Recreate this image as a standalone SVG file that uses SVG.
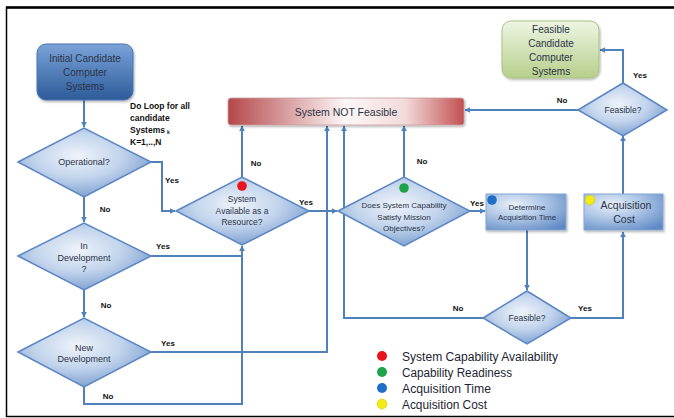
<svg xmlns="http://www.w3.org/2000/svg" width="674" height="418" viewBox="0 0 674 418">
<defs>
<style>
.t{font-family:"Liberation Sans",Arial,sans-serif;fill:#2b3447;text-anchor:middle}
.lb{font-family:"Liberation Sans",Arial,sans-serif;font-weight:bold;font-size:8px;fill:#111;text-anchor:middle}
.lg{font-family:"Liberation Sans",Arial,sans-serif;font-size:12.5px;fill:#1c2433}
.c{fill:none;stroke:#4f81bd;stroke-width:2}
.ca{fill:none;stroke:#4f81bd;stroke-width:2;marker-end:url(#ar)}
.dm{fill:url(#gd);stroke:#5b87c4;stroke-width:1.5}
.bx{fill:url(#gb);stroke:#86a7d3;stroke-width:1;filter:url(#sh)}
</style>
<marker id="ar" viewBox="0 0 10 10" refX="9" refY="5" markerWidth="6" markerHeight="6" markerUnits="userSpaceOnUse" orient="auto">
<path d="M0 0L10 5L0 10z" fill="#4f81bd"/>
</marker>
<radialGradient id="gd" cx="0.45" cy="0.4" r="0.65">
<stop offset="0" stop-color="#eef3fa"/>
<stop offset="0.5" stop-color="#c2d4ec"/>
<stop offset="1" stop-color="#759ace"/>
</radialGradient>
<radialGradient id="gb" cx="0.35" cy="0.3" r="0.85">
<stop offset="0" stop-color="#e9f0f9"/>
<stop offset="0.45" stop-color="#aec6e6"/>
<stop offset="1" stop-color="#5f89c4"/>
</radialGradient>
<linearGradient id="gi" x1="0" y1="0" x2="0" y2="1">
<stop offset="0" stop-color="#7aa3d8"/>
<stop offset="1" stop-color="#2d5b9a"/>
</linearGradient>
<linearGradient id="gg" x1="0" y1="0" x2="0" y2="1">
<stop offset="0" stop-color="#eef5e3"/>
<stop offset="1" stop-color="#b6cf8b"/>
</linearGradient>
<linearGradient id="gr" x1="0" y1="0" x2="1" y2="0">
<stop offset="0" stop-color="#b4474a"/>
<stop offset="0.5" stop-color="#fdf7f7"/>
<stop offset="0.75" stop-color="#f3dada"/>
<stop offset="1" stop-color="#c2504f"/>
</linearGradient>
<filter id="sh" x="-10%" y="-10%" width="130%" height="140%">
<feDropShadow dx="1" dy="1.5" stdDeviation="1.2" flood-color="#000" flood-opacity="0.3"/>
</filter>
</defs>
<rect x="0" y="0" width="674" height="418" fill="#fff"/>
<path d="M674 7.5H6.5V416.5H674" fill="none" stroke="#000" stroke-width="1.5"/>
<line x1="6" y1="7.5" x2="674" y2="7.5" stroke="#000" stroke-width="2.5"/>

<g id="connectors">
<path class="ca" d="M84 100V127"/>
<path class="ca" d="M84 197V222"/>
<path class="ca" d="M84 290V317"/>
<path class="ca" d="M84 387V404H242V246"/>
<path class="c" d="M151 256H242"/>
<path class="ca" d="M151 352H327V126"/>
<path class="ca" d="M151 162H162V211H175"/>
<path class="ca" d="M242 177V126"/>
<path class="ca" d="M309 211H337"/>
<path class="ca" d="M404 177V126"/>
<path class="ca" d="M470 211H485"/>
<path class="ca" d="M527 230V290"/>
<path class="ca" d="M483 318H344V126"/>
<path class="ca" d="M571 318H623V232"/>
<path class="ca" d="M623 194V136"/>
<path class="ca" d="M578 110H465"/>
<path class="ca" d="M623 83V50H600"/>
</g>

<g id="initial">
<rect x="37" y="44" width="96" height="56" rx="9" fill="url(#gi)" stroke="#4a76b3" stroke-width="1" filter="url(#sh)"/>
<text class="t" font-size="10" x="85" y="61.5">Initial Candidate</text>
<text class="t" font-size="10" x="85" y="75.5">Computer</text>
<text class="t" font-size="10" x="85" y="89.5">Systems</text>
</g>

<g id="loopnote">
<text font-family="Liberation Sans,Arial,sans-serif" font-weight="bold" font-size="8.5" fill="#111">
<tspan x="130" y="109">Do Loop for all</tspan>
<tspan x="130" y="120.5">candidate</tspan>
<tspan x="130" y="132.5">Systems</tspan><tspan font-size="5" dx="2" dy="1">k</tspan>
<tspan x="130" y="144.5">K=1,..,N</tspan>
</text>
</g>

<g id="operational">
<polygon class="dm" points="18,162 84,128 151,162 84,197"/>
<text class="t" font-size="9" x="84" y="165">Operational?</text>
</g>

<g id="indev">
<polygon class="dm" points="18,256 84,223 151,256 84,290"/>
<text class="t" font-size="9" x="84" y="249">In</text>
<text class="t" font-size="9" x="84" y="261">Development</text>
<text class="t" font-size="9" x="84" y="272">?</text>
</g>

<g id="newdev">
<polygon class="dm" points="18,352 84,318 151,352 84,387"/>
<text class="t" font-size="9" x="84" y="351">New</text>
<text class="t" font-size="9" x="84" y="362">Development</text>
</g>

<g id="notfeasible">
<rect x="228" y="98" width="236" height="27" rx="3" fill="url(#gr)" stroke="#c9a0a0" stroke-width="0.8" filter="url(#sh)"/>
<text class="t" font-size="10.5" x="346" y="115.5">System NOT Feasible</text>
</g>

<g id="sysavail">
<polygon class="dm" points="176,211 242,177 309,211 242,245"/>
<circle cx="242" cy="186" r="4.8" fill="#e8151d"/>
<text class="t" font-size="8.5" x="242" y="202">System</text>
<text class="t" font-size="8.5" x="242" y="214">Available as a</text>
<text class="t" font-size="8.5" x="242" y="225">Resource?</text>
</g>

<g id="doessys">
<polygon class="dm" points="338,211 404,177 470,211 404,246"/>
<circle cx="404" cy="188" r="4.8" fill="#1fa34a"/>
<text class="t" font-size="8" x="404" y="208">Does System Capability</text>
<text class="t" font-size="8" x="404" y="220">Satisfy Mission</text>
<text class="t" font-size="8" x="404" y="231">Objectives?</text>
</g>

<g id="acqtime">
<rect class="bx" x="486" y="194" width="80" height="36"/>
<circle cx="492" cy="200" r="4.8" fill="#1f6fc8"/>
<text class="t" font-size="8" x="527" y="210">Determine</text>
<text class="t" font-size="8" x="527" y="220">Acquisition Time</text>
</g>

<g id="feasible1">
<polygon class="dm" points="483,318 527,291 571,318 527,344"/>
<text class="t" font-size="8.5" x="527" y="321">Feasible?</text>
</g>

<g id="acqcost">
<rect class="bx" x="584" y="194" width="79" height="36"/>
<circle cx="590" cy="200" r="4.8" fill="#f3ea16" stroke="#c9c000" stroke-width="0.5"/>
<text class="t" font-size="10.5" x="626" y="209">Acquisition</text>
<text class="t" font-size="10.5" x="624" y="223">Cost</text>
</g>

<g id="feasible2">
<polygon class="dm" points="578,110 623,83 667,110 623,136"/>
<text class="t" font-size="8.5" x="623" y="113">Feasible?</text>
</g>

<g id="feasiblecand">
<rect x="502" y="21" width="97" height="57" rx="9" fill="url(#gg)" stroke="#a9c382" stroke-width="1" filter="url(#sh)"/>
<text class="t" font-size="10" x="551" y="32.5">Feasible</text>
<text class="t" font-size="10" x="551" y="46.5">Candidate</text>
<text class="t" font-size="10" x="551" y="60.5">Computer</text>
<text class="t" font-size="10" x="551" y="74.5">Systems</text>
</g>

<g id="labels">
<text class="lb" x="172" y="183">Yes</text>
<text class="lb" x="105" y="212">No</text>
<text class="lb" x="163" y="249">Yes</text>
<text class="lb" x="106" y="308">No</text>
<text class="lb" x="168" y="346">Yes</text>
<text class="lb" x="108" y="399">No</text>
<text class="lb" x="256" y="166">No</text>
<text class="lb" x="306" y="205">Yes</text>
<text class="lb" x="422" y="164">No</text>
<text class="lb" x="477" y="206">Yes</text>
<text class="lb" x="458" y="311">No</text>
<text class="lb" x="585" y="311">Yes</text>
<text class="lb" x="562" y="103">No</text>
<text class="lb" x="640" y="78">Yes</text>
</g>

<g id="legend">
<circle cx="382" cy="356" r="5" fill="#e8151d"/>
<circle cx="382" cy="372" r="5" fill="#1fa34a"/>
<circle cx="382" cy="388" r="5" fill="#1f6fc8"/>
<circle cx="382" cy="404" r="5" fill="#f3ea16" stroke="#c9c000" stroke-width="0.5"/>
<text class="lg" x="402" y="360.5" textLength="156" lengthAdjust="spacingAndGlyphs">System Capability Availability</text>
<text class="lg" x="402" y="376.5" textLength="110" lengthAdjust="spacingAndGlyphs">Capability Readiness</text>
<text class="lg" x="402" y="392.5" textLength="89" lengthAdjust="spacingAndGlyphs">Acquisition Time</text>
<text class="lg" x="402" y="408.5" textLength="85" lengthAdjust="spacingAndGlyphs">Acquisition Cost</text>
</g>
</svg>
